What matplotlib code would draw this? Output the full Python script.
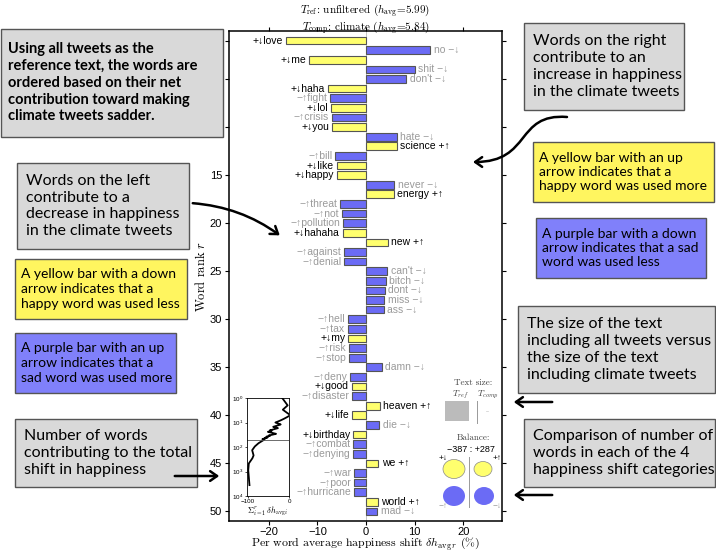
import numpy as np
import matplotlib
matplotlib.use('Agg')
import matplotlib.pyplot as plt
from matplotlib.patches import Rectangle, Ellipse, FancyArrowPatch
from matplotlib.path import Path

plt.rcParams['font.family'] = ['Liberation Sans', 'DejaVu Sans']
plt.rcParams['mathtext.fontset'] = 'cm'
plt.rcParams['axes.unicode_minus'] = True

# word shift data, rank order
words = ['love', 'no', 'me', 'shit', "don't", 'haha', 'fight', 'lol', 'crisis', 'you',
         'hate', 'science', 'bill', 'like', 'happy', 'never', 'energy', 'threat', 'not', 'pollution',
         'hahaha', 'new', 'against', 'denial', "can't", 'bitch', 'dont', 'miss', 'ass', 'hell',
         'tax', 'my', 'risk', 'stop', 'damn', 'deny', 'good', 'disaster', 'heaven', 'life',
         'die', 'birthday', 'combat', 'denying', 'we', 'war', 'poor', 'hurricane', 'world', 'mad']
shifts = [-16.5, 13.2, -11.7, 10.0, 8.3, -7.8, -7.4, -7.1, -7.0, -7.0,
          6.4, 6.4, -6.3, -6.0, -5.9, 5.8, 5.7, -5.3, -5.0, -4.8,
          -4.8, 4.5, -4.5, -4.5, 4.4, 4.1, 3.9, 3.8, 3.7, -3.7,
          -3.7, -3.6, -3.5, -3.4, 3.3, -3.2, -2.9, -2.9, 2.9, -2.8,
          2.7, -2.6, -2.6, -2.6, 2.5, -2.4, -2.4, -2.4, 2.4, 2.3]
# True = happy word (yellow), False = sad word (purple)
happy = [True, False, True, False, False, True, False, True, False, True,
         False, True, False, True, True, False, True, False, False, False,
         True, True, False, False, False, False, False, False, False, False,
         False, True, False, False, False, False, True, False, True, True,
         False, True, False, False, True, False, False, False, True, False]

# cumulative shift beyond rank 50
tail_rank = [70, 95, 135, 220, 290, 470, 890, 1700, 3600]
tail_sum = [-74, -83, -89.5, -86, -89, -97.6, -99, -97.6, -96]

YELLOW = '#FFFF6E'
PURPLE = '#6B6BF5'
GRAY_TXT = '#9A9A9A'

W, H = 716, 553
fig = plt.figure(figsize=(W / 100, H / 100), dpi=100)

ax = fig.add_axes([229 / W, 1 - 521 / H, 273 / W, 490 / H])
ranks = np.arange(1, len(words) + 1)
cols = [YELLOW if h else PURPLE for h in happy]
ax.barh(ranks, shifts, height=0.8, color=cols, edgecolor='#555555', linewidth=0.8, zorder=2)
ax.axvline(0, color='#bbbbbb', lw=0.6, zorder=1)

for r, w, s, h in zip(ranks, words, shifts, happy):
    sign = '+' if h else '\u2212'
    if s < 0:
        arrow = '\u2193' if h else '\u2191'
        lab = sign + arrow + w
        ax.text(s - 0.6, r, lab, ha='right', va='center', fontsize=7.5,
                color='black' if h else GRAY_TXT)
    else:
        arrow = '\u2191' if h else '\u2193'
        lab = w + ' ' + sign + arrow
        ax.text(s + 0.7, r, lab, ha='left', va='center', fontsize=7.5,
                color='black' if h else GRAY_TXT)

ax.set_xlim(-28.2, 28)
ax.set_ylim(51, 0)
ax.set_xticks([-20, -10, 0, 10, 20])
ax.set_yticks([1, 5, 10, 15, 20, 25, 30, 35, 40, 45, 50])
ax.tick_params(direction='out', length=3, width=0.8, labelsize=8, pad=2,
               top=True, right=True, labeltop=False, labelright=False)
ax.tick_params(axis='x', pad=1.2)
for sp in ax.spines.values():
    sp.set_linewidth(1.1)
ax.set_xlabel('Per word average happiness shift $\\delta h_{{\\rm avg}\\,r}$ (%)',
              family='cmr10', fontsize=8.5, labelpad=-0.3)
ax.set_ylabel('Word rank $r$', family='cmr10', fontsize=9, labelpad=1)
ax.set_title('$T_{\\rm ref}$: unfiltered ($h_{\\rm avg}$=5.99)\n'
             '$T_{\\rm comp}$: climate ($h_{\\rm avg}$=5.84)',
             family='cmr10', fontsize=8, pad=1, linespacing=1.0)

# inset: cumulative sum
ins = fig.add_axes([247 / W, 1 - 496 / H, 42 / W, 98 / H])
cum_r = list(ranks) + tail_rank
cum_s = list(np.cumsum(shifts)) + tail_sum
ins.plot(cum_s, cum_r, color='black', lw=1.3)
ins.axhline(50, color='#555555', lw=0.6)
ins.set_yscale('log')
ins.set_ylim(1e4, 1)
ins.set_xlim(-102, 0)
ins.set_yticks([1, 10, 100, 1000, 10000])
ins.set_xticks([-100, 0])
ins.minorticks_off()
ins.tick_params(labelsize=4.5, length=1.5, width=0.5, pad=1)
for sp in ins.spines.values():
    sp.set_linewidth(0.6)
ins.set_xlabel('$\\Sigma_{i=1}^{r}\\,\\delta h_{{\\rm avg}\\,i}$', fontsize=6, labelpad=0.5)

# overlay in pixel coordinates for annotations
ov = fig.add_axes([0, 0, 1, 1])
ov.set_xlim(0, W)
ov.set_ylim(H, 0)
ov.axis('off')

BOXFONT = 'Lato'


def box(x0, y0, x1, y1, color, lines, bold=False, fs=11.5, dx=9):
    ov.add_patch(Rectangle((x0, y0), x1 - x0, y1 - y0, facecolor=color,
                           edgecolor='#555555', lw=1.0))
    ov.text(x0 + dx, (y0 + y1) / 2, lines, ha='left', va='center', family=BOXFONT,
            fontsize=fs, fontweight='bold' if bold else 'normal', linespacing=1.25)


BOXGRAY = '#D9D9D9'
BOXYEL = '#FFF55F'
BOXPUR = '#8080FA'

box(1, 29, 223, 137, BOXGRAY, 'Using all tweets as the\nreference text, the words are\n'
    'ordered based on their net\ncontribution toward making\nclimate tweets sadder.',
    bold=True, fs=10.5, dx=7)
box(17, 163, 189, 249, BOXGRAY, 'Words on the left\ncontribute to a\n'
    'decrease in happiness\nin the climate tweets')
box(15, 259, 187, 319, BOXYEL, 'A yellow bar with a down\narrow indicates that a\n'
    'happy word was used less', fs=10, dx=6)
box(15, 333, 176, 393, BOXPUR, 'A purple bar with an up\narrow indicates that a\n'
    'sad word was used more', fs=10, dx=6)
box(15, 419, 197, 487, BOXGRAY, 'Number of words\ncontributing to the total\n'
    'shift in happiness')
box(524, 23, 684, 110, BOXGRAY, 'Words on the right\ncontribute to an\n'
    'increase in happiness\nin the climate tweets')
box(533, 142, 714, 202, BOXYEL, 'A yellow bar with an up\narrow indicates that a\n'
    'happy word was used more', fs=10, dx=6)
box(536, 218, 706, 278, BOXPUR, 'A purple bar with a down\narrow indicates that a sad\n'
    'word was used less', fs=10, dx=6)
box(518, 306, 715, 393, BOXGRAY, 'The size of the text\nincluding all tweets versus\n'
    'the size of the text\nincluding climate tweets')
box(524, 419, 715, 487, BOXGRAY, 'Comparison of number of\nwords in each of the 4\n'
    'happiness shift categories')

akw = dict(arrowstyle='->,head_length=5,head_width=3.5', color='black', lw=1.8)
s_path = Path([(567, 117), (515, 113), (532, 162), (473, 162)],
              [Path.MOVETO, Path.CURVE4, Path.CURVE4, Path.CURVE4])
ov.add_patch(FancyArrowPatch(path=s_path, **akw))
ov.add_patch(FancyArrowPatch((190, 203), (282, 237), connectionstyle='arc3,rad=-0.15', **akw))
ov.add_patch(FancyArrowPatch((172, 476), (222, 476), **akw))
ov.add_patch(FancyArrowPatch((555, 402), (511, 402), **akw))
ov.add_patch(FancyArrowPatch((555, 495), (511, 495), **akw))

# text size and balance glyphs
ov.text(473, 383, 'Text size:', family='cmr10', fontsize=6.5, ha='center', va='center', color='#444444')
ov.text(460, 395, '$T_{ref}$', fontsize=6.5, ha='center', va='center', color='#444444')
ov.text(488, 395, '$T_{comp}$', fontsize=6.5, ha='center', va='center', color='#444444')
ov.add_patch(Rectangle((445, 401), 24, 20, facecolor='#BBBBBB', edgecolor='none'))
ov.plot([477, 477], [401, 423], color='#999999', lw=0.7)
ov.plot([486, 488], [411, 411], color='#cccccc', lw=0.5)

ov.text(473, 438, 'Balance:', family='cmr10', fontsize=6.5, ha='center', va='center', color='#444444')
ov.text(471, 450, '\u2212387 : +287', fontsize=6.5, ha='center', va='center', color='black')
ov.plot([469, 469], [457, 507], color='#999999', lw=0.7)
ov.add_patch(Ellipse((454, 469), 22, 19, facecolor=YELLOW, edgecolor='#888888', lw=0.5))
ov.add_patch(Ellipse((483, 469), 18, 15, facecolor=YELLOW, edgecolor='#888888', lw=0.5))
ov.add_patch(Ellipse((454, 496), 22, 20, facecolor=PURPLE, edgecolor='none'))
ov.add_patch(Ellipse((484, 496), 20, 18, facecolor=PURPLE, edgecolor='none'))
ov.text(443, 459, '+\u2193', fontsize=6, ha='center', va='center')
ov.text(497, 459, '+\u2191', fontsize=6, ha='center', va='center')
ov.text(443, 507, '\u2212\u2191', fontsize=6, ha='center', va='center', color=GRAY_TXT)
ov.text(497, 507, '\u2212\u2193', fontsize=6, ha='center', va='center', color=GRAY_TXT)

fig.savefig('out.png', dpi=100)
